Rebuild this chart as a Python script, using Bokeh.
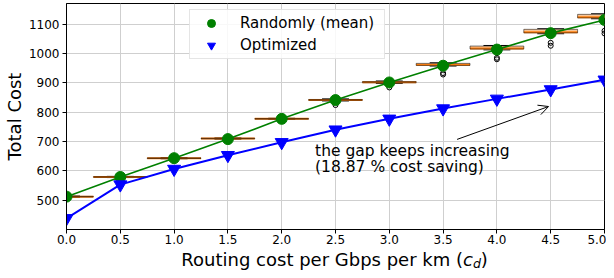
from bokeh.plotting import figure
from bokeh.layouts import column
from bokeh.models import (Range1d, FixedTicker, NumeralTickFormatter, Legend,
                          LegendItem, Label, Arrow, OpenHead, ColumnDataSource)
from bokeh.embed import file_html
from bokeh.resources import INLINE

# ---------------- data ----------------
routing_cost = [0.0, 0.5, 1.0, 1.5, 2.0, 2.5, 3.0, 3.5, 4.0, 4.5, 5.0]
random_mean = [512, 579, 643, 708, 777, 841, 901, 958, 1013, 1069, 1114]
optimized = [438, 553, 606, 653, 697, 740, 777, 812, 845, 877, 910]

box_q1 = [511, 578, 642, 709, 776, 840, 900, 959, 1015, 1070, 1121]
box_median = [512, 579, 643, 710, 777, 841, 902, 961, 1017, 1072, 1123]
box_q3 = [513, 580, 644, 711, 778, 843, 904, 966, 1025, 1082, 1133]
whisker_low = [510, 577, 641, 708, 775, 838, 898, 957, 1012, 1067, 1118]
whisker_high = [514, 581, 645, 712, 779, 845, 906, 968, 1027, 1084, 1135]
outlier_x = [2.0, 2.5, 3.0, 3.5, 3.5, 4.0, 4.0, 4.5, 4.5, 5.0, 5.0]
outlier_y = [772, 824, 884, 933, 928, 985, 980, 1036, 1026, 1077, 1068]

x_ticks = [0.0, 0.5, 1.0, 1.5, 2.0, 2.5, 3.0, 3.5, 4.0, 4.5, 5.0]
y_ticks = [500, 600, 700, 800, 900, 1000, 1100]

series_labels = ["Randomly (mean)", "Optimized"]
x_label_main = "Routing cost per Gbps per km ("
x_label_var = "c"
x_label_sub = "d"
x_label_close = ")"
y_label = "Total Cost"
note_lines = ["the gap keeps increasing", "(18.87 % cost saving)"]

FONT = "DejaVu Sans"

# ---------------- main figure ----------------
p = figure(width=606, height=248, x_range=Range1d(0, 5), y_range=Range1d(400, 1170),
           output_backend="svg", toolbar_location=None,
           min_border_left=64, min_border_right=2, min_border_top=3, min_border_bottom=19)
p.background_fill_color = "white"
p.border_fill_color = "white"
p.outline_line_color = "black"
p.outline_line_width = 1
p.outline_line_alpha = 1

for ax in (p.xaxis[0], p.yaxis[0]):
    ax.axis_line_color = "black"
    ax.major_tick_line_color = "black"
    ax.major_tick_out = 4
    ax.major_tick_in = 0
    ax.minor_tick_line_color = None
    ax.major_label_text_font = FONT
    ax.major_label_text_font_size = "12px"
    ax.major_label_text_color = "black"

p.xaxis.major_label_standoff = 1
p.yaxis.major_label_standoff = 3
p.xaxis.ticker = FixedTicker(ticks=x_ticks)
p.xaxis.formatter = NumeralTickFormatter(format="0.0")
p.yaxis.ticker = FixedTicker(ticks=y_ticks)
p.yaxis.axis_label = y_label
p.yaxis.axis_label_text_font = FONT
p.yaxis.axis_label_text_font_size = "18px"
p.yaxis.axis_label_text_font_style = "normal"
p.yaxis.axis_label_text_color = "black"
p.yaxis.axis_label_standoff = 1

p.xgrid.grid_line_color = "#cfcfcf"
p.ygrid.grid_line_color = "#cfcfcf"
p.xgrid.grid_line_width = 1
p.ygrid.grid_line_width = 1

# ---------------- box plots ----------------
half_w = 0.25
cap_w = 0.125
bsrc = ColumnDataSource(dict(
    x=routing_cost,
    left=[x - half_w for x in routing_cost],
    right=[x + half_w for x in routing_cost],
    cl=[x - cap_w for x in routing_cost],
    cr=[x + cap_w for x in routing_cost],
    q1=box_q1, q3=box_q3, med=box_median, wl=whisker_low, wh=whisker_high,
))
p.segment(x0="x", x1="x", y0="q3", y1="wh", source=bsrc, line_color="black", line_width=1)
p.segment(x0="x", x1="x", y0="q1", y1="wl", source=bsrc, line_color="black", line_width=1)
p.segment(x0="cl", x1="cr", y0="wh", y1="wh", source=bsrc, line_color="black", line_width=1)
p.segment(x0="cl", x1="cr", y0="wl", y1="wl", source=bsrc, line_color="black", line_width=1)
p.quad(left="left", right="right", bottom="q1", top="q3", source=bsrc,
       fill_color="#f8c597", fill_alpha=1, line_color=None)
p.segment(x0="left", x1="right", y0="med", y1="med", source=bsrc,
          line_color="#ff7f0e", line_width=2)
p.quad(left="left", right="right", bottom="q1", top="q3", source=bsrc,
       fill_color=None, line_color="black", line_width=1, line_alpha=0.5)
p.scatter(outlier_x, outlier_y, marker="circle", size=5, fill_color=None,
          line_color="black", line_width=1)

# ---------------- series ----------------
p.line(routing_cost, random_mean, line_color="green", line_width=1.6)
p.line(routing_cost, optimized, line_color="blue", line_width=2)
r_rand = p.scatter(routing_cost, random_mean, marker="circle", size=11,
                   fill_color="green", line_color="green")
r_opt = p.scatter(routing_cost, optimized, marker="inverted_triangle", size=13,
                  fill_color="blue", line_color="blue")

legend = Legend(items=[LegendItem(label=series_labels[0], renderers=[r_rand]),
                       LegendItem(label=series_labels[1], renderers=[r_opt])],
                location=(123, 170))
legend.label_text_font = FONT
legend.label_text_font_size = "15px"
legend.label_text_color = "black"
legend.glyph_width = 36
legend.glyph_height = 20
legend.label_height = 20
legend.label_width = 141
legend.label_standoff = 11
legend.spacing = 2
legend.padding = 3
legend.margin = 0
legend.border_line_color = "#cccccc"
legend.border_line_width = 1
legend.background_fill_alpha = 0.85
p.add_layout(legend, "center")

# ---------------- annotation ----------------
p.add_layout(Arrow(end=OpenHead(size=10, line_width=1, line_color="black"),
                   x_start=3.63, y_start=707, x_end=4.48, y_end=819,
                   line_width=1, line_color="black"))
p.add_layout(Label(x=2.31, y=667, text=note_lines[0], text_font=FONT,
                   text_font_size="15.5px", text_color="black", text_baseline="alphabetic"))
p.add_layout(Label(x=2.31, y=612, text=note_lines[1], text_font=FONT,
                   text_font_size="15.5px", text_color="black", text_baseline="alphabetic"))

# ---------------- x-axis label strip ----------------
pl = figure(width=606, height=22, x_range=p.x_range, y_range=Range1d(0, 22),
            output_backend="svg", toolbar_location=None,
            x_axis_location=None, y_axis_location=None,
            min_border_left=64, min_border_right=2, min_border_top=0, min_border_bottom=0)
pl.outline_line_color = None
pl.grid.visible = False
pl.background_fill_color = "white"
pl.border_fill_color = "white"

pl.add_layout(Label(x=3.685, y=11, text=x_label_main, text_font=FONT, text_font_size="18px",
                    text_align="right", text_baseline="alphabetic", text_color="black"))
pl.add_layout(Label(x=3.685, y=11, text=x_label_var, text_font=FONT, text_font_size="18px",
                    text_font_style="italic", text_align="left", text_baseline="alphabetic",
                    text_color="black"))
pl.add_layout(Label(x=3.777, y=7.5, text=x_label_sub, text_font=FONT, text_font_size="12.6px",
                    text_font_style="italic", text_align="left", text_baseline="alphabetic",
                    text_color="black"))
pl.add_layout(Label(x=3.851, y=11, text=x_label_close, text_font=FONT, text_font_size="18px",
                    text_align="left", text_baseline="alphabetic", text_color="black"))

layout = column(p, pl, spacing=0)
open("out.html", "w").write(file_html(layout, INLINE))
